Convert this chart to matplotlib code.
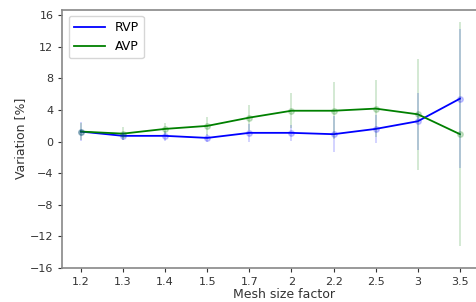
import numpy as np
import matplotlib.pyplot as plt

# mesh size factors (categorical x axis)
factors = ['1.2', '1.3', '1.4', '1.5', '1.7', '2', '2.2', '2.5', '3', '3.5']

# mean variation [%]
rvp = [1.26, 0.72, 0.72, 0.46, 1.1, 1.1, 0.93, 1.6, 2.57, 5.43]
avp = [1.26, 1.0, 1.6, 1.98, 3.03, 3.9, 3.9, 4.17, 3.45, 0.93]

# spread (error bar half width)
rvp_err = [1.2, 0.5, 0.6, 0.5, 1.1, 1.0, 2.3, 1.8, 3.6, 8.8]
avp_err = [1.1, 0.8, 0.8, 1.1, 1.6, 2.2, 3.6, 3.6, 7.0, 14.2]

x = np.arange(len(factors))

fig = plt.figure(figsize=(4.76, 3.02), dpi=100)
ax = fig.add_axes([0.131, 0.113, 0.93, 0.855])

ax.plot(x, rvp, color='blue', lw=1.3, label='RVP')
ax.plot(x, avp, color='green', lw=1.3, label='AVP')
ax.errorbar(x, rvp, yerr=rvp_err, fmt='o', color='blue', alpha=0.2, ms=4, lw=1.2)
ax.errorbar(x, avp, yerr=avp_err, fmt='o', color='green', alpha=0.2, ms=4, lw=1.2)

ax.set_xticks(x)
ax.set_xticklabels(factors)
ax.set_xlim(-0.44, 10.07)
ax.set_ylim(-16, 16.7)
ax.set_yticks(np.arange(-16, 17, 4))
ax.set_xlabel('Mesh size factor', fontsize=9, color='#333333', labelpad=1)
ax.set_ylabel('Variation [%]', fontsize=9, color='#333333', labelpad=2)
ax.tick_params(labelsize=8, colors='#333333', length=3, width=0.8)
for s in ax.spines.values():
    s.set_color('#888888')
    s.set_linewidth(1.2)
ax.spines['right'].set_visible(False)

ax.legend(loc='upper left', fontsize=9, frameon=True, handlelength=2.5)

fig.savefig('out.png', dpi=100)
